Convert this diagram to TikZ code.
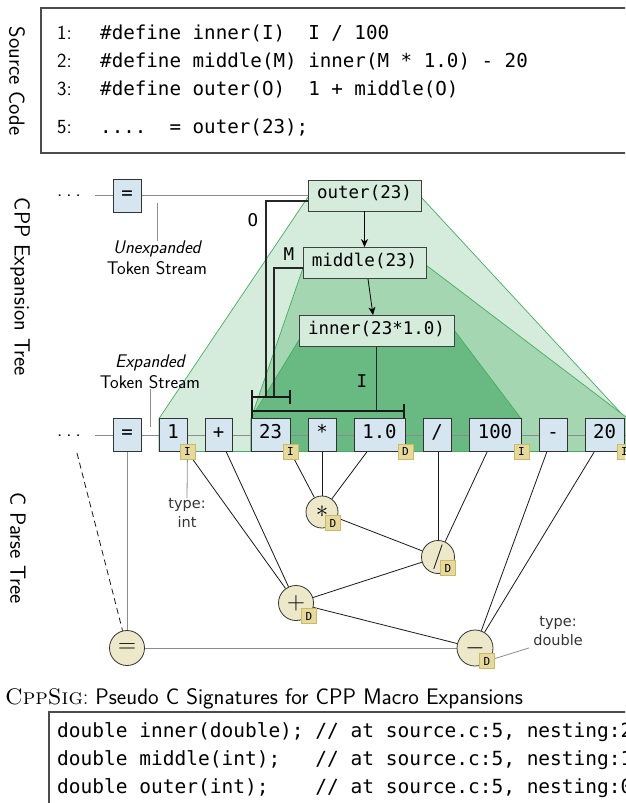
\documentclass[tikz,border=0pt]{standalone}
\usepackage{fontspec}
\setmonofont{DejaVu Sans Mono}
\newfontfamily\dejavu{DejaVu Sans}
\usetikzlibrary{arrows.meta}
\definecolor{tokblue}{HTML}{D5E6F0}
\definecolor{macgreen}{HTML}{D5EBDC}
\definecolor{lightreg}{HTML}{D5EBDC}
\definecolor{midreg}{HTML}{A3D6B1}
\definecolor{darkreg}{HTML}{69BA82}
\definecolor{regedge}{HTML}{45AD62}
\definecolor{opfill}{HTML}{EDE8CA}
\definecolor{badgefill}{HTML}{E6D9A0}
\definecolor{badgedraw}{HTML}{CDB95E}
\pgfdeclarelayer{bg}
\pgfdeclarelayer{lines}
\pgfsetlayers{bg,lines,main}
\begin{document}
\begin{tikzpicture}[x=1pt,y=-1pt,
  side/.style={font=\fontsize{22}{26}\selectfont\sffamily, inner sep=0pt},
  num/.style={font=\fontsize{20}{22}\selectfont\sffamily, anchor=base west, inner sep=0pt},
  code/.style={font=\fontsize{19.2}{22}\selectfont\ttfamily, anchor=base west, inner sep=0pt},
  sig/.style={font=\fontsize{19.5}{22}\selectfont\ttfamily, anchor=base west, inner sep=0pt},
  codebox/.style={draw=black!70, line width=1.1pt},
  tok/.style={draw=black!80, fill=tokblue, line width=0.9pt, minimum height=33pt, inner sep=0pt,
    text height=0.73em, text depth=0pt, font=\fontsize{19}{19}\selectfont\ttfamily},
  mac/.style={draw=black!75, fill=macgreen, line width=0.9pt, minimum height=31pt, inner sep=0pt,
    text height=0.76em, text depth=0.1em, font=\fontsize{17.5}{17.5}\selectfont\ttfamily},
  badge/.style={draw=badgedraw, fill=badgefill, line width=0.8pt, minimum size=15pt, inner sep=0pt,
    font=\fontsize{11}{11}\selectfont\ttfamily},
  op/.style={circle, draw=black!80, fill=opfill, line width=0.8pt, inner sep=0pt,
    font=\fontsize{27}{27}\selectfont},
  region/.style={draw=regedge, line width=0.7pt},
  grayline/.style={draw=black!45, line width=1pt},
  edge/.style={draw=black!90, line width=0.8pt},
  par/.style={draw=black!85, line width=1.1pt},
  brk/.style={draw=black!90, line width=1.8pt},
  dots/.style={font=\fontsize{20}{20}\selectfont\sffamily, inner sep=0pt},
  lbl/.style={font=\fontsize{18.3}{21}\selectfont\sffamily, align=center, inner sep=0pt},
  typ/.style={font=\fontsize{14.5}{19}\selectfont\dejavu, text=black!80, align=center, inner sep=0pt},
  arr/.style={draw=black, line width=0.8pt, -{Stealth[length=8pt,width=7pt,inset=2.5pt]}}
]
\useasboundingbox (0,0) rectangle (625,803);
\clip (0,0) rectangle (625,803);

% side labels
\node[side, rotate=-90] (lblSrc) at (17,81) {Source Code};
\node[side, rotate=-90] (lblCpp) at (20,287) {CPP Expansion Tree};
\node[side, rotate=-90] (lblParse) at (18,548) {C Parse Tree};

% source code box
\coordinate (cbA) at (640,8);
\coordinate (cbB) at (41,8);
\coordinate (cbC) at (41,153);
\coordinate (cbD) at (640,153);
\draw[codebox] (cbA) -- (cbB) -- (cbC) -- (cbD);
\node[num] (n1) at (57,39.5) {1:};
\node[num] (n2) at (57,67.5) {2:};
\node[num] (n3) at (57,95.5) {3:};
\node[num] (n5) at (57,133.5) {5:};
\node[code] (c1) at (100,39.5) {\#define inner(I)\ \ I / 100};
\node[code] (c2) at (100,67.5) {\#define middle(M) inner(M * 1.0) - 20};
\node[code] (c3) at (100,95.5) {\#define outer(O)\ \ 1 + middle(O)};
\node[code] (c5) at (100,133.5) {....\ \ = outer(23);};

% unexpanded token stream
\node[dots] (dotsU) at (69,196) {.\hspace{4pt}.\hspace{4pt}.};
\coordinate (uStart) at (95,195.5);
\node[tok, minimum width=28pt] (uEq) at (127,195.5) {=};
\node[lbl] (uLbl) at (157,258) {\itshape Unexpanded\\Token Stream};
\coordinate (uPtr) at (157,203);

% macro nodes
\node[mac, minimum width=113pt] (outer) at (364.5,195.5) {outer(23)};
\node[mac, minimum width=123pt] (middle) at (364.5,263) {middle(23)};
\node[mac, minimum width=155pt] (inner) at (376.5,331) {inner(23*1.0)};
\node[font=\fontsize{17.5}{17.5}\selectfont\ttfamily] (lO) at (253,220) {O};
\node[font=\fontsize{17.5}{17.5}\selectfont\ttfamily] (lM) at (289,254) {M};
\node[font=\fontsize{17.5}{17.5}\selectfont\ttfamily] (lI) at (362,381) {I};

% expanded token stream
\node[dots] (dotsE) at (69,436) {.\hspace{4pt}.\hspace{4pt}.};
\coordinate (eStart) at (95,435);
\coordinate (eEnd) at (640,435);
\node[lbl] (eLbl) at (150,372) {\itshape Expanded\\Token Stream};
\coordinate (ePtr) at (150,427);
\node[tok, minimum width=28pt] (tEq) at (127,435) {=};
\node[tok, minimum width=28pt] (t1) at (173,435) {1};
\node[tok, minimum width=27pt] (tPlus) at (218.5,435) {+};
\node[tok, minimum width=39pt] (t23) at (270.5,435) {23};
\node[tok, minimum width=28pt] (tMul) at (322,435) {*};
\node[tok, minimum width=51pt] (t10) at (379.5,435) {1.0};
\node[tok, minimum width=28pt] (tDiv) at (437,435) {/};
\node[tok, minimum width=52pt] (t100) at (495,435) {100};
\node[tok, minimum width=28pt] (tMin) at (553,435) {-};
\node[tok, minimum width=39pt] (t20) at (604.5,435) {20};
\node[badge] (b1) at (t1.south east) {I};
\node[badge] (b23) at (t23.south east) {I};
\node[badge] (b10) at (t10.south east) {D};
\node[badge] (b100) at (t100.south east) {I};
\node[badge] (b20) at (t20.south east) {I};

% parse tree
\node[op, minimum size=35pt] (cEq) at (127,648) {$=$};
\node[op, minimum size=35pt] (cPlus) at (296,603) {$+$};
\node[op, minimum size=32pt] (cMul) at (322,512) {$*$};
\node[op, minimum size=33pt] (cDiv) at (438,557) {$/$};
\node[op, minimum size=36pt] (cMin) at (475,648) {$-$};
\node[badge] (dMul) at (333,523) {D};
\node[badge] (dDiv) at (448,568) {D};
\node[badge] (dPlus) at (309,616) {D};
\node[badge] (dMin) at (487,661) {D};
\coordinate (dashStart) at (77,453);
\node[typ] (tInt) at (187,513) {type:\\int};
\node[typ] (tDbl) at (558,631) {type:\\double};

% regions
\begin{pgfonlayer}{bg}
  \path[region, fill=lightreg] (159,451.5) -- (159,418.5) -- (308,197) -- (421,197) -- (626,418.5) -- (626,451.5) -- cycle;
  \path[region, fill=midreg] (251,451.5) -- (251,418.5) -- (303,268) -- (426,265) -- (628,418.5) -- (628,451.5) -- cycle;
  \path[region, fill=darkreg] (251,451.5) -- (251,418.5) -- (299,340) -- (454,330) -- (521,418.5) -- (521,451.5) -- cycle;
\end{pgfonlayer}

\begin{pgfonlayer}{lines}
  \draw[grayline] (uStart) -- (outer.west);
  \draw[grayline] (eStart) -- (eEnd);
  \draw[grayline] (uPtr) -- (uLbl.north);
  \draw[grayline] (eLbl.south) -- (ePtr);
  % parameter lines
  \draw[par] ([yshift=-5.5pt]outer.west) -| (266,397);
  \draw[par] ([yshift=-5pt]middle.west) -| (274,397);
  \draw[par] (inner.south) -- (376.5,411);
  \draw[brk] (252,397) -- (290,397);
  \draw[brk] (252,390) -- (252,404);
  \draw[brk] (290,390) -- (290,404);
  \draw[brk] (252,411) -- (404,411);
  \draw[brk] (252,404) -- (252,418);
  \draw[brk] (404,404) -- (404,418);
  % parse edges
  \draw[grayline] (tEq) -- (cEq);
  \draw[grayline] (cEq) -- (cMin);
  \draw[edge, dashed, dash pattern=on 6pt off 4pt] (dashStart) -- (cEq);
  \draw[edge] (b1) -- (cPlus);
  \draw[edge] (tPlus) -- (cPlus);
  \draw[edge] (b23) -- (cMul);
  \draw[edge] (tMul) -- (cMul);
  \draw[edge] (t10) -- (cMul);
  \draw[edge] (tDiv.south -| cDiv) -- (cDiv);
  \draw[edge] (t100) -- (cDiv);
  \draw[edge] (tMin) -- (cMin);
  \draw[edge] (t20) -- (cMin);
  \draw[edge] (cMul) -- (cDiv);
  \draw[edge] (cDiv) -- (cPlus);
  \draw[edge] (cPlus) -- (cMin);
  \draw[grayline, line width=0.8pt] (b1) -- (tInt.north);
  \draw[grayline, line width=0.8pt] (dMin) -- ([xshift=-4pt,yshift=-2pt]tDbl.south west);
\end{pgfonlayer}

\draw[arr] (outer) -- (middle);
\draw[arr] ([xshift=3.5pt]middle.south) -- ([xshift=-3.5pt]inner.north);

% bottom signatures
\node[font=\fontsize{22.5}{26}\selectfont, anchor=base west, inner sep=0pt] (sigT) at (5,704) {\textsc{CppSig}:\ \sffamily Pseudo C Signatures for CPP Macro Expansions};
\coordinate (sbA) at (640,712);
\coordinate (sbB) at (49,712);
\coordinate (sbC) at (49,810);
\draw[codebox] (sbA) -- (sbB) -- (sbC);
\node[sig] (s1) at (57,737) {double inner(double); // at source.c:5, nesting:2};
\node[sig] (s2) at (57,765) {double middle(int);\ \ \ // at source.c:5, nesting:1};
\node[sig] (s3) at (57,793) {double outer(int);\ \ \ \ // at source.c:5, nesting:0};
\end{tikzpicture}
\end{document}
